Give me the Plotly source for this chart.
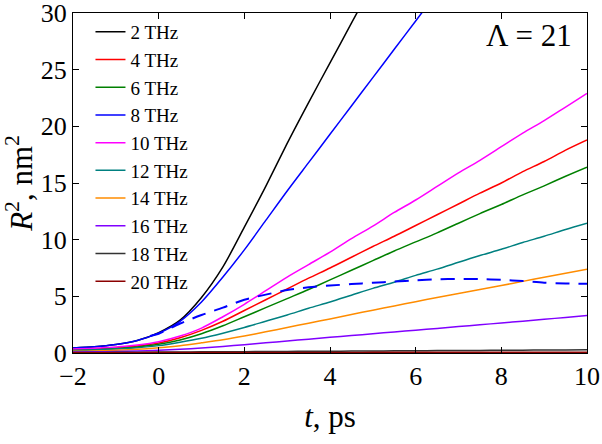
import plotly.graph_objects as go

t = [-2, -1.5, -1, -0.5, 0, 0.5, 1, 1.5, 2, 2.5, 3, 3.5, 4, 4.5, 5, 5.5,
     6, 6.5, 7, 7.5, 8, 8.5, 9, 9.5, 10]

r2_2thz = [0.45, 0.55, 0.75, 1.1, 1.8, 2.9, 4.9, 7.6, 11.1, 14.7, 18.5, 22.1,
           25.6, 29.1, 32.6, None, None, None, None, None, None, None, None, None, None]
r2_4thz = [0.3, 0.36, 0.45, 0.62, 0.88, 1.35, 2.0, 2.8, 3.75, 4.7, 5.65, 6.6,
           7.5, 8.45, 9.4, 10.3, 11.25, 12.2, 13.15, 14.1, 15.0, 16.0, 16.9, 17.9, 18.8]
r2_6thz = [0.27, 0.32, 0.4, 0.54, 0.77, 1.15, 1.7, 2.4, 3.2, 4.0, 4.8, 5.6,
           6.45, 7.3, 8.15, 9.0, 9.8, 10.6, 11.45, 12.3, 13.1, 13.95, 14.75, 15.6, 16.4]
r2_8thz = [0.45, 0.55, 0.75, 1.1, 1.75, 2.8, 4.5, 6.7, 9.1, 11.7, 14.3, 16.8,
           19.3, 21.8, 24.3, 26.8, 29.3, 31.8, None, None, None, None, None, None, None]
r2_10thz = [0.35, 0.42, 0.52, 0.7, 1.0, 1.5, 2.2, 3.2, 4.3, 5.5, 6.7, 7.8,
            8.9, 10.1, 11.2, 12.4, 13.5, 14.7, 15.9, 17.0, 18.2, 19.4, 20.5, 21.7, 22.9]
r2_12thz = [0.22, 0.27, 0.35, 0.47, 0.65, 0.95, 1.3, 1.75, 2.25, 2.8, 3.35, 3.95,
            4.5, 5.1, 5.7, 6.25, 6.85, 7.4, 8.0, 8.6, 9.15, 9.75, 10.3, 10.9, 11.45]
r2_14thz = [0.15, 0.18, 0.24, 0.33, 0.47, 0.65, 0.9, 1.17, 1.5, 1.87, 2.25, 2.63,
            3.0, 3.4, 3.78, 4.15, 4.53, 4.9, 5.25, 5.6, 5.95, 6.32, 6.68, 7.04, 7.4]
r2_16thz = [0.08, 0.1, 0.13, 0.18, 0.24, 0.33, 0.44, 0.58, 0.73, 0.9, 1.06, 1.22,
            1.38, 1.54, 1.7, 1.86, 2.01, 2.17, 2.33, 2.49, 2.65, 2.81, 2.97, 3.14, 3.3]
r2_18thz = [0.05, 0.05, 0.06, 0.07, 0.08, 0.09, 0.1, 0.11, 0.12, 0.13, 0.14, 0.15,
            0.16, 0.17, 0.18, 0.19, 0.2, 0.21, 0.22, 0.23, 0.24, 0.25, 0.26, 0.27, 0.28]
r2_20thz = [0.03, 0.03, 0.03, 0.03, 0.04, 0.04, 0.04, 0.04, 0.05, 0.05, 0.05, 0.05,
            0.05, 0.05, 0.06, 0.06, 0.06, 0.06, 0.06, 0.06, 0.07, 0.07, 0.07, 0.07, 0.07]

fit_t = [-0.2, 0, 0.5, 1, 1.5, 2, 2.5, 3, 3.5, 4, 4.5, 5, 5.5, 6, 6.5, 7,
         7.5, 8, 8.5, 9, 9.5, 10]
fit_r2 = [1.5, 1.7, 2.6, 3.35, 4.0, 4.7, 5.15, 5.55, 5.8, 5.95, 6.08, 6.2,
          6.3, 6.42, 6.5, 6.53, 6.52, 6.45, 6.35, 6.2, 6.13, 6.1]

labels = ["2 THz", "4 THz", "6 THz", "8 THz", "10 THz", "12 THz", "14 THz",
          "16 THz", "18 THz", "20 THz"]
series = [r2_2thz, r2_4thz, r2_6thz, r2_8thz, r2_10thz, r2_12thz, r2_14thz,
          r2_16thz, r2_18thz, r2_20thz]
colors = ["#000000", "#ff0000", "#008000", "#0000ff", "#ff00ff", "#008080",
          "#ff8c00", "#8000ff", "#333333", "#8b0000"]

FONT = "Liberation Serif"

fig = go.Figure()
for lab, ys, c in zip(labels, series, colors):
    fig.add_trace(go.Scatter(x=t, y=ys, mode="lines", name=lab,
                             line=dict(color=c, width=1.5, shape="spline", smoothing=0.8)))
fig.add_trace(go.Scatter(x=fit_t, y=fit_r2, mode="lines", showlegend=False,
                         line=dict(color="#0000ff", width=2, dash="14px,9px",
                                   shape="spline", smoothing=0.8)))

axis_common = dict(showline=True, linecolor="black", linewidth=1, mirror="ticks",
                   ticks="inside", ticklen=6, tickcolor="black", tickwidth=1,
                   showgrid=False, zeroline=False, automargin=False,
                   ticklabeloverflow="allow",
                   tickfont=dict(family=FONT, size=26, color="black"))

fig.update_xaxes(range=[-2, 10], tickvals=[-2, 0, 2, 4, 6, 8, 10],
                 title=dict(text="<i>t</i>, ps", font=dict(family=FONT, size=31, color="black"),
                            standoff=15),
                 **axis_common)
fig.update_yaxes(range=[0, 30], tickvals=[0, 5, 10, 15, 20, 25, 30],
                 title=dict(text="<i>R</i><sup>2</sup>, nm<sup>2</sup>",
                            font=dict(family=FONT, size=31, color="black"), standoff=6),
                 **axis_common)

fig.add_annotation(text="Λ = 21", xref="paper", yref="paper", x=0.975, y=0.99,
                   xanchor="right", yanchor="top", showarrow=False,
                   font=dict(family=FONT, size=31, color="black"))

fig.update_layout(
    width=602, height=444,
    margin=dict(l=73, r=15, t=13, b=91, autoexpand=False),
    plot_bgcolor="white", paper_bgcolor="white",
    legend=dict(x=0.034, y=1.0, xanchor="left", yanchor="top",
                bgcolor="rgba(0,0,0,0)", font=dict(family=FONT, size=19, color="black"),
                itemwidth=30, tracegroupgap=0),
)

fig.write_html("out.html")
